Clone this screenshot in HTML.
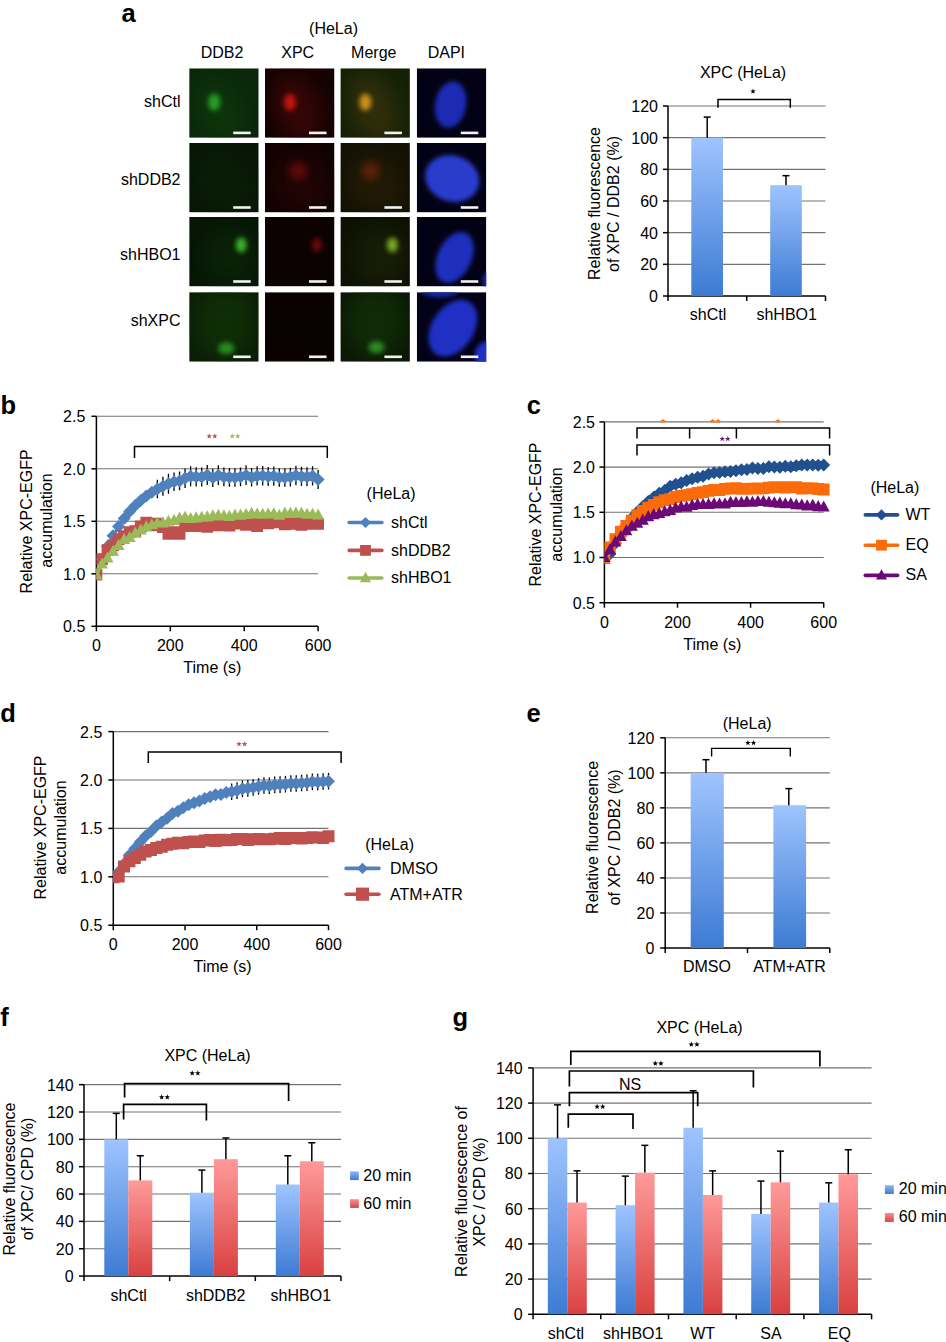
<!DOCTYPE html>
<html><head><meta charset="utf-8"><style>
html,body{margin:0;padding:0;background:#fff;}
svg{display:block;}
text{font-family:"Liberation Sans",sans-serif;}
</style></head><body>
<svg width="946" height="1342" viewBox="0 0 946 1342">
<defs>
<linearGradient id="gb" x1="0" y1="0" x2="0" y2="1"><stop offset="0" stop-color="#9fc4ff"/><stop offset="1" stop-color="#3d7bd3"/></linearGradient>
<linearGradient id="gr" x1="0" y1="0" x2="0" y2="1"><stop offset="0" stop-color="#ff9a9a"/><stop offset="1" stop-color="#d94040"/></linearGradient>
<linearGradient id="gbs" x1="0" y1="0" x2="0" y2="1"><stop offset="0" stop-color="#8fb6f6"/><stop offset="1" stop-color="#3f7bd0"/></linearGradient>
<linearGradient id="grs" x1="0" y1="0" x2="0" y2="1"><stop offset="0" stop-color="#ff8e8e"/><stop offset="1" stop-color="#d34444"/></linearGradient>
<filter id="b8" x="-60%" y="-60%" width="220%" height="220%" color-interpolation-filters="sRGB"><feGaussianBlur stdDeviation="10"/></filter>
<filter id="b4" x="-60%" y="-60%" width="220%" height="220%" color-interpolation-filters="sRGB"><feGaussianBlur stdDeviation="3.5"/></filter>
<filter id="b3" x="-60%" y="-60%" width="220%" height="220%" color-interpolation-filters="sRGB"><feGaussianBlur stdDeviation="2.6"/></filter>
<filter id="b2" x="-60%" y="-60%" width="220%" height="220%" color-interpolation-filters="sRGB"><feGaussianBlur stdDeviation="2.2"/></filter>
</defs>
<clipPath id="c00"><rect x="189.2" y="68.3" width="69.5" height="69.5"/></clipPath>
<g clip-path="url(#c00)"><rect x="189.2" y="68.3" width="69.5" height="69.5" fill="#0b280a"/>
<ellipse cx="219.2" cy="110.3" rx="22" ry="34" fill="#0f3a0c" opacity="0.7" transform="rotate(-20 219.2 110.3)" filter="url(#b8)"/>
<ellipse cx="214.2" cy="102.3" rx="6" ry="8.5" fill="#25a025" opacity="1" transform="rotate(0 214.2 102.3)" filter="url(#b3)"/>
<rect x="233.2" y="131.6" width="17.5" height="2.6" fill="#f2f2f2"/>
</g>
<clipPath id="c01"><rect x="265.0" y="68.3" width="69.5" height="69.5"/></clipPath>
<g clip-path="url(#c01)"><rect x="265.0" y="68.3" width="69.5" height="69.5" fill="#140303"/>
<ellipse cx="298.0" cy="108.3" rx="22" ry="36" fill="#3a0707" opacity="0.9" transform="rotate(-20 298.0 108.3)" filter="url(#b8)"/>
<ellipse cx="290.0" cy="102.3" rx="6" ry="8.5" fill="#c01510" opacity="1" transform="rotate(0 290.0 102.3)" filter="url(#b3)"/>
<rect x="309.0" y="131.6" width="17.5" height="2.6" fill="#f2f2f2"/>
</g>
<clipPath id="c02"><rect x="340.4" y="68.3" width="69.5" height="69.5"/></clipPath>
<g clip-path="url(#c02)"><rect x="340.4" y="68.3" width="69.5" height="69.5" fill="#152106"/>
<ellipse cx="373.4" cy="108.3" rx="22" ry="36" fill="#34300c" opacity="0.9" transform="rotate(-20 373.4 108.3)" filter="url(#b8)"/>
<ellipse cx="365.4" cy="102.3" rx="6" ry="8.5" fill="#c8901a" opacity="1" transform="rotate(0 365.4 102.3)" filter="url(#b3)"/>
<rect x="384.4" y="131.6" width="17.5" height="2.6" fill="#f2f2f2"/>
</g>
<clipPath id="c03"><rect x="416.8" y="68.3" width="69.5" height="69.5"/></clipPath>
<g clip-path="url(#c03)"><rect x="416.8" y="68.3" width="69.5" height="69.5" fill="#020214"/>
<ellipse cx="450.6" cy="104.6" rx="15.5" ry="23.5" fill="#1d2ab4" opacity="1" transform="rotate(10 450.6 104.6)" filter="url(#b2)"/>
<rect x="460.8" y="131.6" width="17.5" height="2.6" fill="#f2f2f2"/>
</g>
<clipPath id="c10"><rect x="189.2" y="142.9" width="69.5" height="69.5"/></clipPath>
<g clip-path="url(#c10)"><rect x="189.2" y="142.9" width="69.5" height="69.5" fill="#071805"/>
<ellipse cx="224.2" cy="182.9" rx="26" ry="32" fill="#0c2208" opacity="0.6" transform="rotate(-30 224.2 182.9)" filter="url(#b8)"/>
<rect x="233.2" y="206.2" width="17.5" height="2.6" fill="#f2f2f2"/>
</g>
<clipPath id="c11"><rect x="265.0" y="142.9" width="69.5" height="69.5"/></clipPath>
<g clip-path="url(#c11)"><rect x="265.0" y="142.9" width="69.5" height="69.5" fill="#110202"/>
<ellipse cx="300.0" cy="182.9" rx="26" ry="32" fill="#260505" opacity="0.8" transform="rotate(-30 300.0 182.9)" filter="url(#b8)"/>
<ellipse cx="298.0" cy="170.9" rx="9" ry="9" fill="#5a0a0a" opacity="1" transform="rotate(0 298.0 170.9)" filter="url(#b4)"/>
<rect x="309.0" y="206.2" width="17.5" height="2.6" fill="#f2f2f2"/>
</g>
<clipPath id="c12"><rect x="340.4" y="142.9" width="69.5" height="69.5"/></clipPath>
<g clip-path="url(#c12)"><rect x="340.4" y="142.9" width="69.5" height="69.5" fill="#121205"/>
<ellipse cx="375.4" cy="182.9" rx="26" ry="32" fill="#261c06" opacity="0.8" transform="rotate(-30 375.4 182.9)" filter="url(#b8)"/>
<ellipse cx="370.4" cy="170.9" rx="9" ry="9" fill="#5a2008" opacity="1" transform="rotate(0 370.4 170.9)" filter="url(#b4)"/>
<rect x="384.4" y="206.2" width="17.5" height="2.6" fill="#f2f2f2"/>
</g>
<clipPath id="c13"><rect x="416.8" y="142.9" width="69.5" height="69.5"/></clipPath>
<g clip-path="url(#c13)"><rect x="416.8" y="142.9" width="69.5" height="69.5" fill="#020216"/>
<ellipse cx="452.2" cy="178.5" rx="27.5" ry="23.0" fill="#2a3ccc" opacity="1" transform="rotate(18 452.2 178.5)" filter="url(#b2)"/>
<rect x="460.8" y="206.2" width="17.5" height="2.6" fill="#f2f2f2"/>
</g>
<clipPath id="c20"><rect x="189.2" y="216.9" width="69.5" height="69.5"/></clipPath>
<g clip-path="url(#c20)"><rect x="189.2" y="216.9" width="69.5" height="69.5" fill="#061705"/>
<ellipse cx="229.2" cy="256.9" rx="26" ry="30" fill="#0c2608" opacity="0.7" transform="rotate(0 229.2 256.9)" filter="url(#b8)"/>
<ellipse cx="241.2" cy="244.9" rx="5.5" ry="7.5" fill="#3cb030" opacity="1" transform="rotate(0 241.2 244.9)" filter="url(#b3)"/>
<rect x="233.2" y="280.2" width="17.5" height="2.6" fill="#f2f2f2"/>
</g>
<clipPath id="c21"><rect x="265.0" y="216.9" width="69.5" height="69.5"/></clipPath>
<g clip-path="url(#c21)"><rect x="265.0" y="216.9" width="69.5" height="69.5" fill="#0d0202"/>
<ellipse cx="317.0" cy="244.9" rx="5" ry="7" fill="#6a0a0a" opacity="1" transform="rotate(0 317.0 244.9)" filter="url(#b3)"/>
<rect x="309.0" y="280.2" width="17.5" height="2.6" fill="#f2f2f2"/>
</g>
<clipPath id="c22"><rect x="340.4" y="216.9" width="69.5" height="69.5"/></clipPath>
<g clip-path="url(#c22)"><rect x="340.4" y="216.9" width="69.5" height="69.5" fill="#0e1204"/>
<ellipse cx="380.4" cy="256.9" rx="26" ry="30" fill="#1c2208" opacity="0.7" transform="rotate(0 380.4 256.9)" filter="url(#b8)"/>
<ellipse cx="392.4" cy="244.9" rx="5.5" ry="7.5" fill="#78a820" opacity="1" transform="rotate(0 392.4 244.9)" filter="url(#b3)"/>
<rect x="384.4" y="280.2" width="17.5" height="2.6" fill="#f2f2f2"/>
</g>
<clipPath id="c23"><rect x="416.8" y="216.9" width="69.5" height="69.5"/></clipPath>
<g clip-path="url(#c23)"><rect x="416.8" y="216.9" width="69.5" height="69.5" fill="#020214"/>
<ellipse cx="454.5" cy="257.5" rx="17" ry="27" fill="#1f2fbe" opacity="1" transform="rotate(25 454.5 257.5)" filter="url(#b2)"/>
<ellipse cx="487.8" cy="280.9" rx="5" ry="9" fill="#1c2ab0" opacity="1" transform="rotate(0 487.8 280.9)" filter="url(#b2)"/>
<rect x="460.8" y="280.2" width="17.5" height="2.6" fill="#f2f2f2"/>
</g>
<clipPath id="c30"><rect x="189.2" y="292.2" width="69.5" height="69.5"/></clipPath>
<g clip-path="url(#c30)"><rect x="189.2" y="292.2" width="69.5" height="69.5" fill="#0a1e06"/>
<ellipse cx="224.2" cy="322.2" rx="30" ry="36" fill="#103208" opacity="0.8" transform="rotate(0 224.2 322.2)" filter="url(#b8)"/>
<ellipse cx="226.2" cy="348.2" rx="8" ry="6" fill="#2a8c22" opacity="1" transform="rotate(0 226.2 348.2)" filter="url(#b3)"/>
<rect x="233.2" y="355.5" width="17.5" height="2.6" fill="#f2f2f2"/>
</g>
<clipPath id="c31"><rect x="265.0" y="292.2" width="69.5" height="69.5"/></clipPath>
<g clip-path="url(#c31)"><rect x="265.0" y="292.2" width="69.5" height="69.5" fill="#0a0101"/>
<rect x="309.0" y="355.5" width="17.5" height="2.6" fill="#f2f2f2"/>
</g>
<clipPath id="c32"><rect x="340.4" y="292.2" width="69.5" height="69.5"/></clipPath>
<g clip-path="url(#c32)"><rect x="340.4" y="292.2" width="69.5" height="69.5" fill="#0b1705"/>
<ellipse cx="375.4" cy="322.2" rx="30" ry="36" fill="#123008" opacity="0.8" transform="rotate(0 375.4 322.2)" filter="url(#b8)"/>
<ellipse cx="376.4" cy="347.2" rx="8" ry="6" fill="#2c8a22" opacity="1" transform="rotate(0 376.4 347.2)" filter="url(#b3)"/>
<rect x="384.4" y="355.5" width="17.5" height="2.6" fill="#f2f2f2"/>
</g>
<clipPath id="c33"><rect x="416.8" y="292.2" width="69.5" height="69.5"/></clipPath>
<g clip-path="url(#c33)"><rect x="416.8" y="292.2" width="69.5" height="69.5" fill="#020218"/>
<ellipse cx="452.8" cy="328.2" rx="21" ry="31" fill="#2030c4" opacity="1" transform="rotate(33 452.8 328.2)" filter="url(#b2)"/>
<ellipse cx="439.8" cy="291.2" rx="18" ry="6" fill="#1a28a8" opacity="1" transform="rotate(0 439.8 291.2)" filter="url(#b2)"/>
<ellipse cx="487.8" cy="355.2" rx="13" ry="14" fill="#2030c4" opacity="1" transform="rotate(0 487.8 355.2)" filter="url(#b2)"/>
<rect x="460.8" y="355.5" width="17.5" height="2.6" fill="#f2f2f2"/>
</g>
<text x="333.50" y="34.30" text-anchor="middle" font-size="16.0" font-weight="normal" fill="#000">(HeLa)</text>
<text x="222.10" y="57.50" text-anchor="middle" font-size="16.0" font-weight="normal" fill="#000">DDB2</text>
<text x="297.70" y="57.50" text-anchor="middle" font-size="16.0" font-weight="normal" fill="#000">XPC</text>
<text x="373.80" y="57.50" text-anchor="middle" font-size="16.0" font-weight="normal" fill="#000">Merge</text>
<text x="446.40" y="57.50" text-anchor="middle" font-size="16.0" font-weight="normal" fill="#000">DAPI</text>
<text x="180.50" y="106.80" text-anchor="end" font-size="16.0" font-weight="normal" fill="#000">shCtl</text>
<text x="180.50" y="185.00" text-anchor="end" font-size="16.0" font-weight="normal" fill="#000">shDDB2</text>
<text x="180.50" y="260.00" text-anchor="end" font-size="16.0" font-weight="normal" fill="#000">shHBO1</text>
<text x="180.50" y="326.20" text-anchor="end" font-size="16.0" font-weight="normal" fill="#000">shXPC</text>
<line x1="668.00" y1="264.33" x2="825.50" y2="264.33" stroke="#737373" stroke-width="1.1"/>
<line x1="668.00" y1="232.67" x2="825.50" y2="232.67" stroke="#737373" stroke-width="1.1"/>
<line x1="668.00" y1="201.00" x2="825.50" y2="201.00" stroke="#737373" stroke-width="1.1"/>
<line x1="668.00" y1="169.33" x2="825.50" y2="169.33" stroke="#737373" stroke-width="1.1"/>
<line x1="668.00" y1="137.67" x2="825.50" y2="137.67" stroke="#737373" stroke-width="1.1"/>
<line x1="668.00" y1="106.00" x2="825.50" y2="106.00" stroke="#737373" stroke-width="1.1"/>
<line x1="668.00" y1="106.00" x2="668.00" y2="296.75" stroke="#000" stroke-width="1.5"/>
<line x1="667.25" y1="296.00" x2="825.50" y2="296.00" stroke="#000" stroke-width="1.5"/>
<line x1="663.00" y1="296.00" x2="668.00" y2="296.00" stroke="#000" stroke-width="1.5"/>
<text x="658.00" y="301.90" text-anchor="end" font-size="16.0" font-weight="normal" fill="#000">0</text>
<line x1="663.00" y1="264.33" x2="668.00" y2="264.33" stroke="#000" stroke-width="1.5"/>
<text x="658.00" y="270.23" text-anchor="end" font-size="16.0" font-weight="normal" fill="#000">20</text>
<line x1="663.00" y1="232.67" x2="668.00" y2="232.67" stroke="#000" stroke-width="1.5"/>
<text x="658.00" y="238.57" text-anchor="end" font-size="16.0" font-weight="normal" fill="#000">40</text>
<line x1="663.00" y1="201.00" x2="668.00" y2="201.00" stroke="#000" stroke-width="1.5"/>
<text x="658.00" y="206.90" text-anchor="end" font-size="16.0" font-weight="normal" fill="#000">60</text>
<line x1="663.00" y1="169.33" x2="668.00" y2="169.33" stroke="#000" stroke-width="1.5"/>
<text x="658.00" y="175.23" text-anchor="end" font-size="16.0" font-weight="normal" fill="#000">80</text>
<line x1="663.00" y1="137.67" x2="668.00" y2="137.67" stroke="#000" stroke-width="1.5"/>
<text x="658.00" y="143.57" text-anchor="end" font-size="16.0" font-weight="normal" fill="#000">100</text>
<line x1="663.00" y1="106.00" x2="668.00" y2="106.00" stroke="#000" stroke-width="1.5"/>
<text x="658.00" y="111.90" text-anchor="end" font-size="16.0" font-weight="normal" fill="#000">120</text>
<line x1="668.00" y1="296.00" x2="668.00" y2="301.00" stroke="#000" stroke-width="1.5"/>
<line x1="746.75" y1="296.00" x2="746.75" y2="301.00" stroke="#000" stroke-width="1.5"/>
<line x1="825.50" y1="296.00" x2="825.50" y2="301.00" stroke="#000" stroke-width="1.5"/>
<rect x="691.30" y="137.67" width="31.70" height="158.33" fill="url(#gb)"/>
<rect x="770.20" y="185.17" width="31.60" height="110.83" fill="url(#gb)"/>
<line x1="707.20" y1="117.08" x2="707.20" y2="137.67" stroke="#000" stroke-width="1.5"/>
<line x1="703.70" y1="117.08" x2="710.70" y2="117.08" stroke="#000" stroke-width="1.5"/>
<line x1="786.00" y1="175.67" x2="786.00" y2="185.17" stroke="#000" stroke-width="1.5"/>
<line x1="782.50" y1="175.67" x2="789.50" y2="175.67" stroke="#000" stroke-width="1.5"/>
<path d="M718.00,107.70 L718.00,99.50 L790.30,99.50 L790.30,107.70" stroke="#000" stroke-width="1.5" fill="none"/>
<path d="M753.00,88.50L753.72,90.41L755.76,90.50L754.16,91.78L754.70,93.75L753.00,92.62L751.30,93.75L751.84,91.78L750.24,90.50L752.28,90.41Z" fill="#000"/>
<text x="743.00" y="78.30" text-anchor="middle" font-size="16.0" font-weight="normal" fill="#000">XPC (HeLa)</text>
<text x="708.00" y="320.00" text-anchor="middle" font-size="16.0" font-weight="normal" fill="#000">shCtl</text>
<text x="786.70" y="320.00" text-anchor="middle" font-size="16.0" font-weight="normal" fill="#000">shHBO1</text>
<text transform="translate(600.46,203.50) rotate(-90)" text-anchor="middle" font-size="16.0">Relative fluorescence</text>
<text transform="translate(619.26,204.00) rotate(-90)" text-anchor="middle" font-size="16.0">of XPC / DDB2 (%)</text>
<line x1="96.40" y1="573.80" x2="318.10" y2="573.80" stroke="#737373" stroke-width="1.1"/>
<line x1="96.40" y1="521.30" x2="318.10" y2="521.30" stroke="#737373" stroke-width="1.1"/>
<line x1="96.40" y1="468.80" x2="318.10" y2="468.80" stroke="#737373" stroke-width="1.1"/>
<line x1="96.40" y1="416.30" x2="318.10" y2="416.30" stroke="#737373" stroke-width="1.1"/>
<line x1="96.40" y1="416.30" x2="96.40" y2="627.05" stroke="#000" stroke-width="1.5"/>
<line x1="95.65" y1="626.30" x2="318.10" y2="626.30" stroke="#000" stroke-width="1.5"/>
<line x1="91.40" y1="626.30" x2="96.40" y2="626.30" stroke="#000" stroke-width="1.5"/>
<text x="85.30" y="632.20" text-anchor="end" font-size="16.0" font-weight="normal" fill="#000">0.5</text>
<line x1="91.40" y1="573.80" x2="96.40" y2="573.80" stroke="#000" stroke-width="1.5"/>
<text x="85.30" y="579.70" text-anchor="end" font-size="16.0" font-weight="normal" fill="#000">1.0</text>
<line x1="91.40" y1="521.30" x2="96.40" y2="521.30" stroke="#000" stroke-width="1.5"/>
<text x="85.30" y="527.20" text-anchor="end" font-size="16.0" font-weight="normal" fill="#000">1.5</text>
<line x1="91.40" y1="468.80" x2="96.40" y2="468.80" stroke="#000" stroke-width="1.5"/>
<text x="85.30" y="474.70" text-anchor="end" font-size="16.0" font-weight="normal" fill="#000">2.0</text>
<line x1="91.40" y1="416.30" x2="96.40" y2="416.30" stroke="#000" stroke-width="1.5"/>
<text x="85.30" y="422.20" text-anchor="end" font-size="16.0" font-weight="normal" fill="#000">2.5</text>
<line x1="96.40" y1="626.30" x2="96.40" y2="631.30" stroke="#000" stroke-width="1.5"/>
<text x="96.40" y="651.00" text-anchor="middle" font-size="16.0" font-weight="normal" fill="#000">0</text>
<line x1="170.30" y1="626.30" x2="170.30" y2="631.30" stroke="#000" stroke-width="1.5"/>
<text x="170.30" y="651.00" text-anchor="middle" font-size="16.0" font-weight="normal" fill="#000">200</text>
<line x1="244.20" y1="626.30" x2="244.20" y2="631.30" stroke="#000" stroke-width="1.5"/>
<text x="244.20" y="651.00" text-anchor="middle" font-size="16.0" font-weight="normal" fill="#000">400</text>
<line x1="318.10" y1="626.30" x2="318.10" y2="631.30" stroke="#000" stroke-width="1.5"/>
<text x="318.10" y="651.00" text-anchor="middle" font-size="16.0" font-weight="normal" fill="#000">600</text>
<text x="212.40" y="672.50" text-anchor="middle" font-size="16.0" font-weight="normal" fill="#000">Time (s)</text>
<text transform="translate(31.76,521.40) rotate(-90)" text-anchor="middle" font-size="16.0">Relative XPC-EGFP</text>
<text transform="translate(51.76,520.50) rotate(-90)" text-anchor="middle" font-size="16.0">accumulation</text>
<path d="M134.50,458.00 L134.50,446.60 L327.30,446.60 L327.30,458.00" stroke="#000" stroke-width="1.5" fill="none"/>
<path d="M209.20,433.30L209.92,435.21L211.96,435.30L210.36,436.58L210.90,438.55L209.20,437.42L207.50,438.55L208.04,436.58L206.44,435.30L208.48,435.21ZM214.80,433.30L215.52,435.21L217.56,435.30L215.96,436.58L216.50,438.55L214.80,437.42L213.10,438.55L213.64,436.58L212.04,435.30L214.08,435.21Z" fill="#c0504d"/>
<path d="M232.20,433.30L232.92,435.21L234.96,435.30L233.36,436.58L233.90,438.55L232.20,437.42L230.50,438.55L231.04,436.58L229.44,435.30L231.48,435.21ZM237.80,433.30L238.52,435.21L240.56,435.30L238.96,436.58L239.50,438.55L237.80,437.42L236.10,438.55L236.64,436.58L235.04,435.30L237.08,435.21Z" fill="#9bbb59"/>
<clipPath id="clb"><rect x="96.4" y="400" width="243.6" height="226"/></clipPath>
<g clip-path="url(#clb)">
<path d="M96.40,573.80 L101.94,559.17 L107.49,546.59 L113.03,535.75 L118.57,526.43 L124.11,518.40 L129.66,511.49 L135.20,505.54 L140.74,500.43 L146.28,496.02 L151.82,492.23 L157.37,488.97 L162.91,486.16 L168.45,483.75 L174.00,481.70 L179.54,480.88 L185.08,478.28 L190.62,476.31 L196.17,476.86 L201.71,477.05 L207.25,475.01 L212.79,477.82 L218.34,475.19 L223.88,476.93 L229.42,477.36 L234.96,477.42 L240.50,476.81 L246.05,475.20 L251.59,477.20 L257.13,475.93 L262.68,475.74 L268.22,476.58 L273.76,476.03 L279.30,477.55 L284.85,477.56 L290.39,477.10 L295.93,475.60 L301.47,476.40 L307.02,476.75 L312.56,475.90 L318.10,479.46" stroke="#4f81bd" stroke-width="3.0" fill="none" stroke-linejoin="round"/>
<line x1="157.37" y1="479.73" x2="157.37" y2="498.20" stroke="#000" stroke-width="1.3"/>
<line x1="162.91" y1="476.63" x2="162.91" y2="495.69" stroke="#000" stroke-width="1.3"/>
<line x1="168.45" y1="473.86" x2="168.45" y2="493.65" stroke="#000" stroke-width="1.3"/>
<line x1="174.00" y1="472.44" x2="174.00" y2="490.97" stroke="#000" stroke-width="1.3"/>
<line x1="179.54" y1="471.53" x2="179.54" y2="490.23" stroke="#000" stroke-width="1.3"/>
<line x1="185.08" y1="468.56" x2="185.08" y2="487.99" stroke="#000" stroke-width="1.3"/>
<line x1="190.62" y1="466.31" x2="190.62" y2="486.32" stroke="#000" stroke-width="1.3"/>
<line x1="196.17" y1="467.19" x2="196.17" y2="486.53" stroke="#000" stroke-width="1.3"/>
<line x1="201.71" y1="467.55" x2="201.71" y2="486.56" stroke="#000" stroke-width="1.3"/>
<line x1="207.25" y1="464.99" x2="207.25" y2="485.04" stroke="#000" stroke-width="1.3"/>
<line x1="212.79" y1="468.63" x2="212.79" y2="487.01" stroke="#000" stroke-width="1.3"/>
<line x1="218.34" y1="465.26" x2="218.34" y2="485.11" stroke="#000" stroke-width="1.3"/>
<line x1="223.88" y1="467.52" x2="223.88" y2="486.34" stroke="#000" stroke-width="1.3"/>
<line x1="229.42" y1="468.08" x2="229.42" y2="486.64" stroke="#000" stroke-width="1.3"/>
<line x1="234.96" y1="468.17" x2="234.96" y2="486.68" stroke="#000" stroke-width="1.3"/>
<line x1="240.50" y1="467.38" x2="240.50" y2="486.24" stroke="#000" stroke-width="1.3"/>
<line x1="246.05" y1="465.32" x2="246.05" y2="485.09" stroke="#000" stroke-width="1.3"/>
<line x1="251.59" y1="467.88" x2="251.59" y2="486.51" stroke="#000" stroke-width="1.3"/>
<line x1="257.13" y1="466.25" x2="257.13" y2="485.60" stroke="#000" stroke-width="1.3"/>
<line x1="262.68" y1="466.02" x2="262.68" y2="485.47" stroke="#000" stroke-width="1.3"/>
<line x1="268.22" y1="467.09" x2="268.22" y2="486.06" stroke="#000" stroke-width="1.3"/>
<line x1="273.76" y1="466.38" x2="273.76" y2="485.67" stroke="#000" stroke-width="1.3"/>
<line x1="279.30" y1="468.34" x2="279.30" y2="486.76" stroke="#000" stroke-width="1.3"/>
<line x1="284.85" y1="468.36" x2="284.85" y2="486.76" stroke="#000" stroke-width="1.3"/>
<line x1="290.39" y1="467.76" x2="290.39" y2="486.43" stroke="#000" stroke-width="1.3"/>
<line x1="295.93" y1="465.84" x2="295.93" y2="485.36" stroke="#000" stroke-width="1.3"/>
<line x1="301.47" y1="466.86" x2="301.47" y2="485.93" stroke="#000" stroke-width="1.3"/>
<line x1="307.02" y1="467.32" x2="307.02" y2="486.19" stroke="#000" stroke-width="1.3"/>
<line x1="312.56" y1="466.22" x2="312.56" y2="485.58" stroke="#000" stroke-width="1.3"/>
<line x1="318.10" y1="469.91" x2="318.10" y2="489.02" stroke="#000" stroke-width="1.3"/>
<path d="M96.40,567.30L102.90,573.80L96.40,580.30L89.90,573.80ZM101.94,552.67L108.44,559.17L101.94,565.67L95.44,559.17ZM107.49,540.09L113.99,546.59L107.49,553.09L100.99,546.59ZM113.03,529.25L119.53,535.75L113.03,542.25L106.53,535.75ZM118.57,519.93L125.07,526.43L118.57,532.93L112.07,526.43ZM124.11,511.90L130.61,518.40L124.11,524.90L117.61,518.40ZM129.66,504.99L136.16,511.49L129.66,517.99L123.16,511.49ZM135.20,499.04L141.70,505.54L135.20,512.04L128.70,505.54ZM140.74,493.93L147.24,500.43L140.74,506.93L134.24,500.43ZM146.28,489.52L152.78,496.02L146.28,502.52L139.78,496.02ZM151.82,485.73L158.32,492.23L151.82,498.73L145.32,492.23ZM157.37,482.47L163.87,488.97L157.37,495.47L150.87,488.97ZM162.91,479.66L169.41,486.16L162.91,492.66L156.41,486.16ZM168.45,477.25L174.95,483.75L168.45,490.25L161.95,483.75ZM174.00,475.20L180.50,481.70L174.00,488.20L167.50,481.70ZM179.54,474.38L186.04,480.88L179.54,487.38L173.04,480.88ZM185.08,471.78L191.58,478.28L185.08,484.78L178.58,478.28ZM190.62,469.81L197.12,476.31L190.62,482.81L184.12,476.31ZM196.17,470.36L202.67,476.86L196.17,483.36L189.67,476.86ZM201.71,470.55L208.21,477.05L201.71,483.55L195.21,477.05ZM207.25,468.51L213.75,475.01L207.25,481.51L200.75,475.01ZM212.79,471.32L219.29,477.82L212.79,484.32L206.29,477.82ZM218.34,468.69L224.84,475.19L218.34,481.69L211.84,475.19ZM223.88,470.43L230.38,476.93L223.88,483.43L217.38,476.93ZM229.42,470.86L235.92,477.36L229.42,483.86L222.92,477.36ZM234.96,470.92L241.46,477.42L234.96,483.92L228.46,477.42ZM240.50,470.31L247.00,476.81L240.50,483.31L234.00,476.81ZM246.05,468.70L252.55,475.20L246.05,481.70L239.55,475.20ZM251.59,470.70L258.09,477.20L251.59,483.70L245.09,477.20ZM257.13,469.43L263.63,475.93L257.13,482.43L250.63,475.93ZM262.68,469.24L269.18,475.74L262.68,482.24L256.18,475.74ZM268.22,470.08L274.72,476.58L268.22,483.08L261.72,476.58ZM273.76,469.53L280.26,476.03L273.76,482.53L267.26,476.03ZM279.30,471.05L285.80,477.55L279.30,484.05L272.80,477.55ZM284.85,471.06L291.35,477.56L284.85,484.06L278.35,477.56ZM290.39,470.60L296.89,477.10L290.39,483.60L283.89,477.10ZM295.93,469.10L302.43,475.60L295.93,482.10L289.43,475.60ZM301.47,469.90L307.97,476.40L301.47,482.90L294.97,476.40ZM307.02,470.25L313.52,476.75L307.02,483.25L300.52,476.75ZM312.56,469.40L319.06,475.90L312.56,482.40L306.06,475.90ZM318.10,472.96L324.60,479.46L318.10,485.96L311.60,479.46Z" fill="#4f81bd"/>
</g>
<g clip-path="url(#clb)">
<path d="M96.40,574.64 L101.94,559.14 L107.49,550.09 L113.03,545.33 L118.57,539.22 L124.11,536.07 L129.66,532.20 L135.20,531.07 L140.74,526.40 L146.28,522.55 L151.82,525.46 L157.37,523.64 L162.91,527.02 L168.45,533.92 L174.00,532.20 L179.54,533.81 L185.08,526.20 L190.62,525.57 L196.17,526.16 L201.71,524.68 L207.25,526.84 L212.79,525.05 L218.34,525.28 L223.88,525.15 L229.42,525.48 L234.96,523.68 L240.50,523.06 L246.05,524.85 L251.59,523.87 L257.13,526.22 L262.68,523.34 L268.22,523.39 L273.76,521.75 L279.30,522.28 L284.85,524.36 L290.39,523.75 L295.93,522.38 L301.47,524.91 L307.02,522.88 L312.56,523.93 L318.10,523.96" stroke="#c0504d" stroke-width="3.0" fill="none" stroke-linejoin="round"/>
<path d="M90.50,568.74h11.80v11.80h-11.80ZM96.04,553.24h11.80v11.80h-11.80ZM101.59,544.19h11.80v11.80h-11.80ZM107.13,539.43h11.80v11.80h-11.80ZM112.67,533.32h11.80v11.80h-11.80ZM118.21,530.17h11.80v11.80h-11.80ZM123.75,526.30h11.80v11.80h-11.80ZM129.30,525.17h11.80v11.80h-11.80ZM134.84,520.50h11.80v11.80h-11.80ZM140.38,516.65h11.80v11.80h-11.80ZM145.92,519.56h11.80v11.80h-11.80ZM151.47,517.74h11.80v11.80h-11.80ZM157.01,521.12h11.80v11.80h-11.80ZM162.55,528.02h11.80v11.80h-11.80ZM168.09,526.30h11.80v11.80h-11.80ZM173.64,527.91h11.80v11.80h-11.80ZM179.18,520.30h11.80v11.80h-11.80ZM184.72,519.67h11.80v11.80h-11.80ZM190.27,520.26h11.80v11.80h-11.80ZM195.81,518.78h11.80v11.80h-11.80ZM201.35,520.94h11.80v11.80h-11.80ZM206.89,519.15h11.80v11.80h-11.80ZM212.44,519.38h11.80v11.80h-11.80ZM217.98,519.25h11.80v11.80h-11.80ZM223.52,519.58h11.80v11.80h-11.80ZM229.06,517.78h11.80v11.80h-11.80ZM234.60,517.16h11.80v11.80h-11.80ZM240.15,518.95h11.80v11.80h-11.80ZM245.69,517.97h11.80v11.80h-11.80ZM251.23,520.32h11.80v11.80h-11.80ZM256.78,517.44h11.80v11.80h-11.80ZM262.32,517.49h11.80v11.80h-11.80ZM267.86,515.85h11.80v11.80h-11.80ZM273.40,516.38h11.80v11.80h-11.80ZM278.95,518.46h11.80v11.80h-11.80ZM284.49,517.85h11.80v11.80h-11.80ZM290.03,516.48h11.80v11.80h-11.80ZM295.57,519.01h11.80v11.80h-11.80ZM301.12,516.98h11.80v11.80h-11.80ZM306.66,518.03h11.80v11.80h-11.80ZM312.20,518.06h11.80v11.80h-11.80Z" fill="#c0504d"/>
</g>
<g clip-path="url(#clb)">
<path d="M96.40,574.91 L101.94,564.12 L107.49,558.08 L113.03,551.28 L118.57,545.40 L124.11,539.50 L129.66,537.51 L135.20,533.19 L140.74,530.07 L146.28,526.78 L151.82,524.87 L157.37,522.99 L162.91,522.97 L168.45,521.35 L174.00,520.41 L179.54,518.17 L185.08,517.20 L190.62,518.57 L196.17,517.95 L201.71,517.33 L207.25,516.92 L212.79,515.94 L218.34,515.38 L223.88,515.96 L229.42,516.40 L234.96,515.17 L240.50,515.14 L246.05,514.52 L251.59,513.43 L257.13,514.00 L262.68,514.36 L268.22,514.04 L273.76,513.83 L279.30,515.35 L284.85,513.18 L290.39,513.44 L295.93,513.18 L301.47,513.34 L307.02,514.34 L312.56,514.31 L318.10,515.04" stroke="#9bbb59" stroke-width="3.0" fill="none" stroke-linejoin="round"/>
<path d="M96.40,568.31L102.40,579.41L90.40,579.41ZM101.94,557.52L107.94,568.62L95.94,568.62ZM107.49,551.48L113.49,562.58L101.49,562.58ZM113.03,544.68L119.03,555.78L107.03,555.78ZM118.57,538.80L124.57,549.90L112.57,549.90ZM124.11,532.90L130.11,544.00L118.11,544.00ZM129.66,530.91L135.66,542.01L123.66,542.01ZM135.20,526.59L141.20,537.69L129.20,537.69ZM140.74,523.47L146.74,534.57L134.74,534.57ZM146.28,520.18L152.28,531.28L140.28,531.28ZM151.82,518.27L157.82,529.37L145.82,529.37ZM157.37,516.39L163.37,527.49L151.37,527.49ZM162.91,516.37L168.91,527.47L156.91,527.47ZM168.45,514.75L174.45,525.85L162.45,525.85ZM174.00,513.81L180.00,524.91L168.00,524.91ZM179.54,511.57L185.54,522.67L173.54,522.67ZM185.08,510.60L191.08,521.70L179.08,521.70ZM190.62,511.97L196.62,523.07L184.62,523.07ZM196.17,511.35L202.17,522.45L190.17,522.45ZM201.71,510.73L207.71,521.83L195.71,521.83ZM207.25,510.32L213.25,521.42L201.25,521.42ZM212.79,509.34L218.79,520.44L206.79,520.44ZM218.34,508.78L224.34,519.88L212.34,519.88ZM223.88,509.36L229.88,520.46L217.88,520.46ZM229.42,509.80L235.42,520.90L223.42,520.90ZM234.96,508.57L240.96,519.67L228.96,519.67ZM240.50,508.54L246.50,519.64L234.50,519.64ZM246.05,507.92L252.05,519.02L240.05,519.02ZM251.59,506.83L257.59,517.93L245.59,517.93ZM257.13,507.40L263.13,518.50L251.13,518.50ZM262.68,507.76L268.68,518.86L256.68,518.86ZM268.22,507.44L274.22,518.54L262.22,518.54ZM273.76,507.23L279.76,518.33L267.76,518.33ZM279.30,508.75L285.30,519.85L273.30,519.85ZM284.85,506.58L290.85,517.68L278.85,517.68ZM290.39,506.84L296.39,517.94L284.39,517.94ZM295.93,506.58L301.93,517.68L289.93,517.68ZM301.47,506.74L307.47,517.84L295.47,517.84ZM307.02,507.74L313.02,518.84L301.02,518.84ZM312.56,507.71L318.56,518.81L306.56,518.81ZM318.10,508.44L324.10,519.54L312.10,519.54Z" fill="#9bbb59"/>
</g>
<text x="366.60" y="499.00" text-anchor="start" font-size="16.0" font-weight="normal" fill="#000">(HeLa)</text>
<line x1="349.20" y1="522.5" x2="381.90" y2="522.5" stroke="#4f81bd" stroke-width="3.6" stroke-linecap="round"/>
<path d="M365.50,516.90L371.10,522.50L365.50,528.10L359.90,522.50Z" fill="#4f81bd"/>
<line x1="349.20" y1="550.4" x2="381.90" y2="550.4" stroke="#c0504d" stroke-width="3.6" stroke-linecap="round"/>
<path d="M360.10,545.00h10.80v10.80h-10.80Z" fill="#c0504d"/>
<line x1="349.20" y1="578.0" x2="381.90" y2="578.0" stroke="#9bbb59" stroke-width="3.6" stroke-linecap="round"/>
<path d="M365.50,571.84L371.10,582.20L359.90,582.20Z" fill="#9bbb59"/>
<text x="391.00" y="528.00" text-anchor="start" font-size="16.0" font-weight="normal" fill="#000">shCtl</text>
<text x="391.00" y="555.50" text-anchor="start" font-size="16.0" font-weight="normal" fill="#000">shDDB2</text>
<text x="391.00" y="583.20" text-anchor="start" font-size="16.0" font-weight="normal" fill="#000">shHBO1</text>
<line x1="604.40" y1="557.50" x2="823.70" y2="557.50" stroke="#737373" stroke-width="1.1"/>
<line x1="604.40" y1="512.30" x2="823.70" y2="512.30" stroke="#737373" stroke-width="1.1"/>
<line x1="604.40" y1="467.10" x2="823.70" y2="467.10" stroke="#737373" stroke-width="1.1"/>
<line x1="604.40" y1="421.90" x2="823.70" y2="421.90" stroke="#737373" stroke-width="1.1"/>
<line x1="604.40" y1="421.90" x2="604.40" y2="603.45" stroke="#000" stroke-width="1.5"/>
<line x1="603.65" y1="602.70" x2="823.70" y2="602.70" stroke="#000" stroke-width="1.5"/>
<line x1="599.40" y1="602.70" x2="604.40" y2="602.70" stroke="#000" stroke-width="1.5"/>
<text x="595.00" y="608.60" text-anchor="end" font-size="16.0" font-weight="normal" fill="#000">0.5</text>
<line x1="599.40" y1="557.50" x2="604.40" y2="557.50" stroke="#000" stroke-width="1.5"/>
<text x="595.00" y="563.40" text-anchor="end" font-size="16.0" font-weight="normal" fill="#000">1.0</text>
<line x1="599.40" y1="512.30" x2="604.40" y2="512.30" stroke="#000" stroke-width="1.5"/>
<text x="595.00" y="518.20" text-anchor="end" font-size="16.0" font-weight="normal" fill="#000">1.5</text>
<line x1="599.40" y1="467.10" x2="604.40" y2="467.10" stroke="#000" stroke-width="1.5"/>
<text x="595.00" y="473.00" text-anchor="end" font-size="16.0" font-weight="normal" fill="#000">2.0</text>
<line x1="599.40" y1="421.90" x2="604.40" y2="421.90" stroke="#000" stroke-width="1.5"/>
<text x="595.00" y="427.80" text-anchor="end" font-size="16.0" font-weight="normal" fill="#000">2.5</text>
<line x1="604.40" y1="602.70" x2="604.40" y2="607.70" stroke="#000" stroke-width="1.5"/>
<text x="604.40" y="628.00" text-anchor="middle" font-size="16.0" font-weight="normal" fill="#000">0</text>
<line x1="677.50" y1="602.70" x2="677.50" y2="607.70" stroke="#000" stroke-width="1.5"/>
<text x="677.50" y="628.00" text-anchor="middle" font-size="16.0" font-weight="normal" fill="#000">200</text>
<line x1="750.60" y1="602.70" x2="750.60" y2="607.70" stroke="#000" stroke-width="1.5"/>
<text x="750.60" y="628.00" text-anchor="middle" font-size="16.0" font-weight="normal" fill="#000">400</text>
<line x1="823.70" y1="602.70" x2="823.70" y2="607.70" stroke="#000" stroke-width="1.5"/>
<text x="823.70" y="628.00" text-anchor="middle" font-size="16.0" font-weight="normal" fill="#000">600</text>
<text x="712.40" y="649.50" text-anchor="middle" font-size="16.0" font-weight="normal" fill="#000">Time (s)</text>
<text transform="translate(541.26,514.50) rotate(-90)" text-anchor="middle" font-size="16.0">Relative XPC-EGFP</text>
<text transform="translate(561.56,514.50) rotate(-90)" text-anchor="middle" font-size="16.0">accumulation</text>
<path d="M637,438.5 L637,428.1 L829.6,428.1 L829.6,438.5 M689.6,428.1 L689.6,438.5 M736.4,428.1 L736.4,438.5" stroke="#000" stroke-width="1.5" fill="none"/>
<path d="M637.00,455.60 L637.00,445.00 L829.60,445.00 L829.60,455.60" stroke="#000" stroke-width="1.5" fill="none"/>
<path d="M663.00,418.20L663.72,420.11L665.76,420.20L664.16,421.48L664.70,423.45L663.00,422.32L661.30,423.45L661.84,421.48L660.24,420.20L662.28,420.11Z" fill="#f57c1f"/>
<path d="M712.60,418.20L713.32,420.11L715.36,420.20L713.76,421.48L714.30,423.45L712.60,422.32L710.90,423.45L711.44,421.48L709.84,420.20L711.88,420.11ZM718.20,418.20L718.92,420.11L720.96,420.20L719.36,421.48L719.90,423.45L718.20,422.32L716.50,423.45L717.04,421.48L715.44,420.20L717.48,420.11Z" fill="#f57c1f"/>
<path d="M778.00,418.20L778.72,420.11L780.76,420.20L779.16,421.48L779.70,423.45L778.00,422.32L776.30,423.45L776.84,421.48L775.24,420.20L777.28,420.11Z" fill="#f57c1f"/>
<path d="M722.20,436.00L722.92,437.91L724.96,438.00L723.36,439.28L723.90,441.25L722.20,440.12L720.50,441.25L721.04,439.28L719.44,438.00L721.48,437.91ZM727.80,436.00L728.52,437.91L730.56,438.00L728.96,439.28L729.50,441.25L727.80,440.12L726.10,441.25L726.64,439.28L725.04,438.00L727.08,437.91Z" fill="#6a1a7a"/>
<clipPath id="clc"><rect x="604.4" y="400" width="245.60000000000002" height="203"/></clipPath>
<g clip-path="url(#clc)">
<path d="M604.40,557.31 L609.88,554.10 L615.37,543.28 L620.85,533.62 L626.33,525.42 L631.81,517.93 L637.29,512.02 L642.78,506.56 L648.26,501.49 L653.74,497.31 L659.23,493.21 L664.71,490.43 L670.19,486.34 L675.67,484.20 L681.15,482.66 L686.64,480.56 L692.12,478.70 L697.60,477.16 L703.09,476.17 L708.57,473.93 L714.05,472.67 L719.53,472.49 L725.01,471.63 L730.50,471.46 L735.98,470.77 L741.46,469.83 L746.94,469.40 L752.43,468.09 L757.91,468.61 L763.39,468.41 L768.88,466.70 L774.36,466.97 L779.84,467.21 L785.32,466.34 L790.80,466.82 L796.29,465.84 L801.77,464.95 L807.25,464.89 L812.74,464.91 L818.22,465.34 L823.70,464.99" stroke="#21508f" stroke-width="3.0" fill="none" stroke-linejoin="round"/>
<path d="M604.40,550.81L610.90,557.31L604.40,563.81L597.90,557.31ZM609.88,547.60L616.38,554.10L609.88,560.60L603.38,554.10ZM615.37,536.78L621.87,543.28L615.37,549.78L608.87,543.28ZM620.85,527.12L627.35,533.62L620.85,540.12L614.35,533.62ZM626.33,518.92L632.83,525.42L626.33,531.92L619.83,525.42ZM631.81,511.43L638.31,517.93L631.81,524.43L625.31,517.93ZM637.29,505.52L643.79,512.02L637.29,518.52L630.79,512.02ZM642.78,500.06L649.28,506.56L642.78,513.06L636.28,506.56ZM648.26,494.99L654.76,501.49L648.26,507.99L641.76,501.49ZM653.74,490.81L660.24,497.31L653.74,503.81L647.24,497.31ZM659.23,486.71L665.73,493.21L659.23,499.71L652.73,493.21ZM664.71,483.93L671.21,490.43L664.71,496.93L658.21,490.43ZM670.19,479.84L676.69,486.34L670.19,492.84L663.69,486.34ZM675.67,477.70L682.17,484.20L675.67,490.70L669.17,484.20ZM681.15,476.16L687.65,482.66L681.15,489.16L674.65,482.66ZM686.64,474.06L693.14,480.56L686.64,487.06L680.14,480.56ZM692.12,472.20L698.62,478.70L692.12,485.20L685.62,478.70ZM697.60,470.66L704.10,477.16L697.60,483.66L691.10,477.16ZM703.09,469.67L709.59,476.17L703.09,482.67L696.59,476.17ZM708.57,467.43L715.07,473.93L708.57,480.43L702.07,473.93ZM714.05,466.17L720.55,472.67L714.05,479.17L707.55,472.67ZM719.53,465.99L726.03,472.49L719.53,478.99L713.03,472.49ZM725.01,465.13L731.51,471.63L725.01,478.13L718.51,471.63ZM730.50,464.96L737.00,471.46L730.50,477.96L724.00,471.46ZM735.98,464.27L742.48,470.77L735.98,477.27L729.48,470.77ZM741.46,463.33L747.96,469.83L741.46,476.33L734.96,469.83ZM746.94,462.90L753.44,469.40L746.94,475.90L740.44,469.40ZM752.43,461.59L758.93,468.09L752.43,474.59L745.93,468.09ZM757.91,462.11L764.41,468.61L757.91,475.11L751.41,468.61ZM763.39,461.91L769.89,468.41L763.39,474.91L756.89,468.41ZM768.88,460.20L775.38,466.70L768.88,473.20L762.38,466.70ZM774.36,460.47L780.86,466.97L774.36,473.47L767.86,466.97ZM779.84,460.71L786.34,467.21L779.84,473.71L773.34,467.21ZM785.32,459.84L791.82,466.34L785.32,472.84L778.82,466.34ZM790.80,460.32L797.30,466.82L790.80,473.32L784.30,466.82ZM796.29,459.34L802.79,465.84L796.29,472.34L789.79,465.84ZM801.77,458.45L808.27,464.95L801.77,471.45L795.27,464.95ZM807.25,458.39L813.75,464.89L807.25,471.39L800.75,464.89ZM812.74,458.41L819.24,464.91L812.74,471.41L806.24,464.91ZM818.22,458.84L824.72,465.34L818.22,471.84L811.72,465.34ZM823.70,458.49L830.20,464.99L823.70,471.49L817.20,464.99Z" fill="#21508f"/>
</g>
<g clip-path="url(#clc)">
<path d="M604.40,557.98 L609.88,547.28 L615.37,539.18 L620.85,531.54 L626.33,525.93 L631.81,520.70 L637.29,515.21 L642.78,510.96 L648.26,507.72 L653.74,504.82 L659.23,502.26 L664.71,500.18 L670.19,499.04 L675.67,496.99 L681.15,495.83 L686.64,495.10 L692.12,494.07 L697.60,492.81 L703.09,492.08 L708.57,490.79 L714.05,489.84 L719.53,490.09 L725.01,488.96 L730.50,488.52 L735.98,488.26 L741.46,488.84 L746.94,488.82 L752.43,488.61 L757.91,488.48 L763.39,488.33 L768.88,487.59 L774.36,487.08 L779.84,487.08 L785.32,487.52 L790.80,487.20 L796.29,487.09 L801.77,488.59 L807.25,488.22 L812.74,488.33 L818.22,488.99 L823.70,489.51" stroke="#fb6b09" stroke-width="3.0" fill="none" stroke-linejoin="round"/>
<path d="M598.50,552.08h11.80v11.80h-11.80ZM603.98,541.38h11.80v11.80h-11.80ZM609.47,533.28h11.80v11.80h-11.80ZM614.95,525.64h11.80v11.80h-11.80ZM620.43,520.03h11.80v11.80h-11.80ZM625.91,514.80h11.80v11.80h-11.80ZM631.39,509.31h11.80v11.80h-11.80ZM636.88,505.06h11.80v11.80h-11.80ZM642.36,501.82h11.80v11.80h-11.80ZM647.84,498.92h11.80v11.80h-11.80ZM653.33,496.36h11.80v11.80h-11.80ZM658.81,494.28h11.80v11.80h-11.80ZM664.29,493.14h11.80v11.80h-11.80ZM669.77,491.09h11.80v11.80h-11.80ZM675.25,489.93h11.80v11.80h-11.80ZM680.74,489.20h11.80v11.80h-11.80ZM686.22,488.17h11.80v11.80h-11.80ZM691.70,486.91h11.80v11.80h-11.80ZM697.19,486.18h11.80v11.80h-11.80ZM702.67,484.89h11.80v11.80h-11.80ZM708.15,483.94h11.80v11.80h-11.80ZM713.63,484.19h11.80v11.80h-11.80ZM719.12,483.06h11.80v11.80h-11.80ZM724.60,482.62h11.80v11.80h-11.80ZM730.08,482.36h11.80v11.80h-11.80ZM735.56,482.94h11.80v11.80h-11.80ZM741.04,482.92h11.80v11.80h-11.80ZM746.53,482.71h11.80v11.80h-11.80ZM752.01,482.58h11.80v11.80h-11.80ZM757.49,482.43h11.80v11.80h-11.80ZM762.98,481.69h11.80v11.80h-11.80ZM768.46,481.18h11.80v11.80h-11.80ZM773.94,481.18h11.80v11.80h-11.80ZM779.42,481.62h11.80v11.80h-11.80ZM784.90,481.30h11.80v11.80h-11.80ZM790.39,481.19h11.80v11.80h-11.80ZM795.87,482.69h11.80v11.80h-11.80ZM801.35,482.32h11.80v11.80h-11.80ZM806.84,482.43h11.80v11.80h-11.80ZM812.32,483.09h11.80v11.80h-11.80ZM817.80,483.61h11.80v11.80h-11.80Z" fill="#fb6b09"/>
</g>
<g clip-path="url(#clc)">
<path d="M604.40,557.53 L609.88,549.78 L615.37,541.90 L620.85,536.60 L626.33,530.82 L631.81,526.22 L637.29,523.34 L642.78,520.15 L648.26,516.65 L653.74,514.66 L659.23,513.49 L664.71,511.86 L670.19,510.38 L675.67,508.06 L681.15,507.15 L686.64,507.21 L692.12,505.46 L697.60,504.58 L703.09,504.49 L708.57,504.46 L714.05,503.76 L719.53,504.02 L725.01,503.89 L730.50,502.25 L735.98,502.50 L741.46,502.50 L746.94,501.75 L752.43,502.34 L757.91,501.59 L763.39,501.56 L768.88,502.36 L774.36,502.77 L779.84,503.19 L785.32,503.76 L790.80,503.76 L796.29,504.74 L801.77,505.01 L807.25,505.95 L812.74,505.34 L818.22,506.66 L823.70,507.04" stroke="#6b0a76" stroke-width="3.0" fill="none" stroke-linejoin="round"/>
<path d="M604.40,550.93L610.40,562.03L598.40,562.03ZM609.88,543.18L615.88,554.28L603.88,554.28ZM615.37,535.30L621.37,546.40L609.37,546.40ZM620.85,530.00L626.85,541.10L614.85,541.10ZM626.33,524.22L632.33,535.32L620.33,535.32ZM631.81,519.62L637.81,530.72L625.81,530.72ZM637.29,516.74L643.29,527.84L631.29,527.84ZM642.78,513.55L648.78,524.65L636.78,524.65ZM648.26,510.05L654.26,521.15L642.26,521.15ZM653.74,508.06L659.74,519.16L647.74,519.16ZM659.23,506.89L665.23,517.99L653.23,517.99ZM664.71,505.26L670.71,516.36L658.71,516.36ZM670.19,503.78L676.19,514.88L664.19,514.88ZM675.67,501.46L681.67,512.56L669.67,512.56ZM681.15,500.55L687.15,511.65L675.15,511.65ZM686.64,500.61L692.64,511.71L680.64,511.71ZM692.12,498.86L698.12,509.96L686.12,509.96ZM697.60,497.98L703.60,509.08L691.60,509.08ZM703.09,497.89L709.09,508.99L697.09,508.99ZM708.57,497.86L714.57,508.96L702.57,508.96ZM714.05,497.16L720.05,508.26L708.05,508.26ZM719.53,497.42L725.53,508.52L713.53,508.52ZM725.01,497.29L731.01,508.39L719.01,508.39ZM730.50,495.65L736.50,506.75L724.50,506.75ZM735.98,495.90L741.98,507.00L729.98,507.00ZM741.46,495.90L747.46,507.00L735.46,507.00ZM746.94,495.15L752.94,506.25L740.94,506.25ZM752.43,495.74L758.43,506.84L746.43,506.84ZM757.91,494.99L763.91,506.09L751.91,506.09ZM763.39,494.96L769.39,506.06L757.39,506.06ZM768.88,495.76L774.88,506.86L762.88,506.86ZM774.36,496.17L780.36,507.27L768.36,507.27ZM779.84,496.59L785.84,507.69L773.84,507.69ZM785.32,497.16L791.32,508.26L779.32,508.26ZM790.80,497.16L796.80,508.26L784.80,508.26ZM796.29,498.14L802.29,509.24L790.29,509.24ZM801.77,498.41L807.77,509.51L795.77,509.51ZM807.25,499.35L813.25,510.45L801.25,510.45ZM812.74,498.74L818.74,509.84L806.74,509.84ZM818.22,500.06L824.22,511.16L812.22,511.16ZM823.70,500.44L829.70,511.54L817.70,511.54Z" fill="#6b0a76"/>
</g>
<text x="870.40" y="492.50" text-anchor="start" font-size="16.0" font-weight="normal" fill="#000">(HeLa)</text>
<line x1="865.30" y1="514.9" x2="897.60" y2="514.9" stroke="#21508f" stroke-width="3.6" stroke-linecap="round"/>
<path d="M881.50,509.30L887.10,514.90L881.50,520.50L875.90,514.90Z" fill="#21508f"/>
<line x1="865.30" y1="545.2" x2="897.60" y2="545.2" stroke="#fb6b09" stroke-width="3.6" stroke-linecap="round"/>
<path d="M876.10,539.80h10.80v10.80h-10.80Z" fill="#fb6b09"/>
<line x1="865.30" y1="575.4" x2="897.60" y2="575.4" stroke="#6b0a76" stroke-width="3.6" stroke-linecap="round"/>
<path d="M881.50,569.24L887.10,579.60L875.90,579.60Z" fill="#6b0a76"/>
<text x="905.50" y="520.00" text-anchor="start" font-size="16.0" font-weight="normal" fill="#000">WT</text>
<text x="905.50" y="550.20" text-anchor="start" font-size="16.0" font-weight="normal" fill="#000">EQ</text>
<text x="905.50" y="580.40" text-anchor="start" font-size="16.0" font-weight="normal" fill="#000">SA</text>
<line x1="113.30" y1="876.80" x2="328.50" y2="876.80" stroke="#737373" stroke-width="1.1"/>
<line x1="113.30" y1="828.40" x2="328.50" y2="828.40" stroke="#737373" stroke-width="1.1"/>
<line x1="113.30" y1="780.00" x2="328.50" y2="780.00" stroke="#737373" stroke-width="1.1"/>
<line x1="113.30" y1="731.60" x2="328.50" y2="731.60" stroke="#737373" stroke-width="1.1"/>
<line x1="113.30" y1="731.60" x2="113.30" y2="925.95" stroke="#000" stroke-width="1.5"/>
<line x1="112.55" y1="925.20" x2="328.50" y2="925.20" stroke="#000" stroke-width="1.5"/>
<line x1="108.30" y1="925.20" x2="113.30" y2="925.20" stroke="#000" stroke-width="1.5"/>
<text x="102.30" y="931.10" text-anchor="end" font-size="16.0" font-weight="normal" fill="#000">0.5</text>
<line x1="108.30" y1="876.80" x2="113.30" y2="876.80" stroke="#000" stroke-width="1.5"/>
<text x="102.30" y="882.70" text-anchor="end" font-size="16.0" font-weight="normal" fill="#000">1.0</text>
<line x1="108.30" y1="828.40" x2="113.30" y2="828.40" stroke="#000" stroke-width="1.5"/>
<text x="102.30" y="834.30" text-anchor="end" font-size="16.0" font-weight="normal" fill="#000">1.5</text>
<line x1="108.30" y1="780.00" x2="113.30" y2="780.00" stroke="#000" stroke-width="1.5"/>
<text x="102.30" y="785.90" text-anchor="end" font-size="16.0" font-weight="normal" fill="#000">2.0</text>
<line x1="108.30" y1="731.60" x2="113.30" y2="731.60" stroke="#000" stroke-width="1.5"/>
<text x="102.30" y="737.50" text-anchor="end" font-size="16.0" font-weight="normal" fill="#000">2.5</text>
<line x1="113.30" y1="925.20" x2="113.30" y2="930.20" stroke="#000" stroke-width="1.5"/>
<text x="113.30" y="950.20" text-anchor="middle" font-size="16.0" font-weight="normal" fill="#000">0</text>
<line x1="185.03" y1="925.20" x2="185.03" y2="930.20" stroke="#000" stroke-width="1.5"/>
<text x="185.03" y="950.20" text-anchor="middle" font-size="16.0" font-weight="normal" fill="#000">200</text>
<line x1="256.77" y1="925.20" x2="256.77" y2="930.20" stroke="#000" stroke-width="1.5"/>
<text x="256.77" y="950.20" text-anchor="middle" font-size="16.0" font-weight="normal" fill="#000">400</text>
<line x1="328.50" y1="925.20" x2="328.50" y2="930.20" stroke="#000" stroke-width="1.5"/>
<text x="328.50" y="950.20" text-anchor="middle" font-size="16.0" font-weight="normal" fill="#000">600</text>
<text x="222.50" y="971.70" text-anchor="middle" font-size="16.0" font-weight="normal" fill="#000">Time (s)</text>
<text transform="translate(45.86,827.50) rotate(-90)" text-anchor="middle" font-size="16.0">Relative XPC-EGFP</text>
<text transform="translate(66.06,827.50) rotate(-90)" text-anchor="middle" font-size="16.0">accumulation</text>
<path d="M148.30,763.00 L148.30,752.00 L341.10,752.00 L341.10,763.00" stroke="#000" stroke-width="1.5" fill="none"/>
<path d="M239.00,741.20L239.72,743.11L241.76,743.20L240.16,744.48L240.70,746.45L239.00,745.32L237.30,746.45L237.84,744.48L236.24,743.20L238.28,743.11ZM244.60,741.20L245.32,743.11L247.36,743.20L245.76,744.48L246.30,746.45L244.60,745.32L242.90,746.45L243.44,744.48L241.84,743.20L243.88,743.11Z" fill="#c0504d"/>
<clipPath id="cld"><rect x="113.3" y="700" width="236.7" height="225"/></clipPath>
<g clip-path="url(#cld)">
<path d="M113.30,876.67 L118.68,871.76 L124.06,863.72 L129.44,854.99 L134.82,848.44 L140.20,841.88 L145.58,836.00 L150.96,831.45 L156.34,825.97 L161.72,822.00 L167.10,818.33 L172.48,813.52 L177.86,811.26 L183.24,807.87 L188.62,804.83 L194.00,802.69 L199.38,800.88 L204.76,798.62 L210.14,796.79 L215.52,794.83 L220.90,794.43 L226.28,792.41 L231.66,791.70 L237.04,790.58 L242.42,788.84 L247.80,788.37 L253.18,787.49 L258.56,786.46 L263.94,785.57 L269.32,785.71 L274.70,784.91 L280.08,784.59 L285.46,784.14 L290.84,783.47 L296.22,783.48 L301.60,783.03 L306.98,782.82 L312.36,781.84 L317.74,781.98 L323.12,781.48 L328.50,781.19" stroke="#4f81bd" stroke-width="3.0" fill="none" stroke-linejoin="round"/>
<line x1="231.66" y1="783.40" x2="231.66" y2="800.00" stroke="#000" stroke-width="1.3"/>
<line x1="237.04" y1="782.28" x2="237.04" y2="798.88" stroke="#000" stroke-width="1.3"/>
<line x1="242.42" y1="780.54" x2="242.42" y2="797.14" stroke="#000" stroke-width="1.3"/>
<line x1="247.80" y1="780.07" x2="247.80" y2="796.67" stroke="#000" stroke-width="1.3"/>
<line x1="253.18" y1="779.19" x2="253.18" y2="795.79" stroke="#000" stroke-width="1.3"/>
<line x1="258.56" y1="778.16" x2="258.56" y2="794.76" stroke="#000" stroke-width="1.3"/>
<line x1="263.94" y1="777.27" x2="263.94" y2="793.87" stroke="#000" stroke-width="1.3"/>
<line x1="269.32" y1="777.41" x2="269.32" y2="794.01" stroke="#000" stroke-width="1.3"/>
<line x1="274.70" y1="776.61" x2="274.70" y2="793.21" stroke="#000" stroke-width="1.3"/>
<line x1="280.08" y1="776.29" x2="280.08" y2="792.89" stroke="#000" stroke-width="1.3"/>
<line x1="285.46" y1="775.84" x2="285.46" y2="792.44" stroke="#000" stroke-width="1.3"/>
<line x1="290.84" y1="775.17" x2="290.84" y2="791.77" stroke="#000" stroke-width="1.3"/>
<line x1="296.22" y1="775.18" x2="296.22" y2="791.78" stroke="#000" stroke-width="1.3"/>
<line x1="301.60" y1="774.73" x2="301.60" y2="791.33" stroke="#000" stroke-width="1.3"/>
<line x1="306.98" y1="774.52" x2="306.98" y2="791.12" stroke="#000" stroke-width="1.3"/>
<line x1="312.36" y1="773.54" x2="312.36" y2="790.14" stroke="#000" stroke-width="1.3"/>
<line x1="317.74" y1="773.68" x2="317.74" y2="790.28" stroke="#000" stroke-width="1.3"/>
<line x1="323.12" y1="773.18" x2="323.12" y2="789.78" stroke="#000" stroke-width="1.3"/>
<line x1="328.50" y1="772.89" x2="328.50" y2="789.49" stroke="#000" stroke-width="1.3"/>
<path d="M113.30,870.17L119.80,876.67L113.30,883.17L106.80,876.67ZM118.68,865.26L125.18,871.76L118.68,878.26L112.18,871.76ZM124.06,857.22L130.56,863.72L124.06,870.22L117.56,863.72ZM129.44,848.49L135.94,854.99L129.44,861.49L122.94,854.99ZM134.82,841.94L141.32,848.44L134.82,854.94L128.32,848.44ZM140.20,835.38L146.70,841.88L140.20,848.38L133.70,841.88ZM145.58,829.50L152.08,836.00L145.58,842.50L139.08,836.00ZM150.96,824.95L157.46,831.45L150.96,837.95L144.46,831.45ZM156.34,819.47L162.84,825.97L156.34,832.47L149.84,825.97ZM161.72,815.50L168.22,822.00L161.72,828.50L155.22,822.00ZM167.10,811.83L173.60,818.33L167.10,824.83L160.60,818.33ZM172.48,807.02L178.98,813.52L172.48,820.02L165.98,813.52ZM177.86,804.76L184.36,811.26L177.86,817.76L171.36,811.26ZM183.24,801.37L189.74,807.87L183.24,814.37L176.74,807.87ZM188.62,798.33L195.12,804.83L188.62,811.33L182.12,804.83ZM194.00,796.19L200.50,802.69L194.00,809.19L187.50,802.69ZM199.38,794.38L205.88,800.88L199.38,807.38L192.88,800.88ZM204.76,792.12L211.26,798.62L204.76,805.12L198.26,798.62ZM210.14,790.29L216.64,796.79L210.14,803.29L203.64,796.79ZM215.52,788.33L222.02,794.83L215.52,801.33L209.02,794.83ZM220.90,787.93L227.40,794.43L220.90,800.93L214.40,794.43ZM226.28,785.91L232.78,792.41L226.28,798.91L219.78,792.41ZM231.66,785.20L238.16,791.70L231.66,798.20L225.16,791.70ZM237.04,784.08L243.54,790.58L237.04,797.08L230.54,790.58ZM242.42,782.34L248.92,788.84L242.42,795.34L235.92,788.84ZM247.80,781.87L254.30,788.37L247.80,794.87L241.30,788.37ZM253.18,780.99L259.68,787.49L253.18,793.99L246.68,787.49ZM258.56,779.96L265.06,786.46L258.56,792.96L252.06,786.46ZM263.94,779.07L270.44,785.57L263.94,792.07L257.44,785.57ZM269.32,779.21L275.82,785.71L269.32,792.21L262.82,785.71ZM274.70,778.41L281.20,784.91L274.70,791.41L268.20,784.91ZM280.08,778.09L286.58,784.59L280.08,791.09L273.58,784.59ZM285.46,777.64L291.96,784.14L285.46,790.64L278.96,784.14ZM290.84,776.97L297.34,783.47L290.84,789.97L284.34,783.47ZM296.22,776.98L302.72,783.48L296.22,789.98L289.72,783.48ZM301.60,776.53L308.10,783.03L301.60,789.53L295.10,783.03ZM306.98,776.32L313.48,782.82L306.98,789.32L300.48,782.82ZM312.36,775.34L318.86,781.84L312.36,788.34L305.86,781.84ZM317.74,775.48L324.24,781.98L317.74,788.48L311.24,781.98ZM323.12,774.98L329.62,781.48L323.12,787.98L316.62,781.48ZM328.50,774.69L335.00,781.19L328.50,787.69L322.00,781.19Z" fill="#4f81bd"/>
</g>
<g clip-path="url(#cld)">
<path d="M113.30,877.17 L118.68,876.56 L124.06,866.48 L129.44,861.22 L134.82,858.03 L140.20,854.66 L145.58,851.46 L150.96,849.89 L156.34,847.91 L161.72,846.79 L167.10,844.75 L172.48,843.66 L177.86,842.75 L183.24,843.28 L188.62,841.90 L194.00,841.55 L199.38,841.98 L204.76,840.51 L210.14,840.09 L215.52,841.00 L220.90,839.63 L226.28,840.28 L231.66,839.94 L237.04,838.97 L242.42,839.04 L247.80,839.91 L253.18,839.32 L258.56,839.03 L263.94,839.15 L269.32,839.22 L274.70,838.87 L280.08,838.10 L285.46,839.04 L290.84,838.06 L296.22,838.09 L301.60,838.59 L306.98,837.96 L312.36,837.36 L317.74,837.39 L323.12,837.94 L328.50,836.36" stroke="#c0504d" stroke-width="3.0" fill="none" stroke-linejoin="round"/>
<path d="M107.30,871.17h12.00v12.00h-12.00ZM112.68,870.56h12.00v12.00h-12.00ZM118.06,860.48h12.00v12.00h-12.00ZM123.44,855.22h12.00v12.00h-12.00ZM128.82,852.03h12.00v12.00h-12.00ZM134.20,848.66h12.00v12.00h-12.00ZM139.58,845.46h12.00v12.00h-12.00ZM144.96,843.89h12.00v12.00h-12.00ZM150.34,841.91h12.00v12.00h-12.00ZM155.72,840.79h12.00v12.00h-12.00ZM161.10,838.75h12.00v12.00h-12.00ZM166.48,837.66h12.00v12.00h-12.00ZM171.86,836.75h12.00v12.00h-12.00ZM177.24,837.28h12.00v12.00h-12.00ZM182.62,835.90h12.00v12.00h-12.00ZM188.00,835.55h12.00v12.00h-12.00ZM193.38,835.98h12.00v12.00h-12.00ZM198.76,834.51h12.00v12.00h-12.00ZM204.14,834.09h12.00v12.00h-12.00ZM209.52,835.00h12.00v12.00h-12.00ZM214.90,833.63h12.00v12.00h-12.00ZM220.28,834.28h12.00v12.00h-12.00ZM225.66,833.94h12.00v12.00h-12.00ZM231.04,832.97h12.00v12.00h-12.00ZM236.42,833.04h12.00v12.00h-12.00ZM241.80,833.91h12.00v12.00h-12.00ZM247.18,833.32h12.00v12.00h-12.00ZM252.56,833.03h12.00v12.00h-12.00ZM257.94,833.15h12.00v12.00h-12.00ZM263.32,833.22h12.00v12.00h-12.00ZM268.70,832.87h12.00v12.00h-12.00ZM274.08,832.10h12.00v12.00h-12.00ZM279.46,833.04h12.00v12.00h-12.00ZM284.84,832.06h12.00v12.00h-12.00ZM290.22,832.09h12.00v12.00h-12.00ZM295.60,832.59h12.00v12.00h-12.00ZM300.98,831.96h12.00v12.00h-12.00ZM306.36,831.36h12.00v12.00h-12.00ZM311.74,831.39h12.00v12.00h-12.00ZM317.12,831.94h12.00v12.00h-12.00ZM322.50,830.36h12.00v12.00h-12.00Z" fill="#c0504d"/>
</g>
<text x="365.20" y="850.10" text-anchor="start" font-size="16.0" font-weight="normal" fill="#000">(HeLa)</text>
<line x1="346.10" y1="868.4" x2="378.90" y2="868.4" stroke="#4f81bd" stroke-width="3.6" stroke-linecap="round"/>
<path d="M362.50,862.80L368.10,868.40L362.50,874.00L356.90,868.40Z" fill="#4f81bd"/>
<line x1="346.10" y1="894.2" x2="378.90" y2="894.2" stroke="#c0504d" stroke-width="3.6" stroke-linecap="round"/>
<path d="M355.90,887.60h13.20v13.20h-13.20Z" fill="#c0504d"/>
<text x="390.00" y="873.60" text-anchor="start" font-size="16.0" font-weight="normal" fill="#000">DMSO</text>
<text x="390.00" y="900.00" text-anchor="start" font-size="16.0" font-weight="normal" fill="#000">ATM+ATR</text>
<line x1="665.20" y1="912.97" x2="829.80" y2="912.97" stroke="#737373" stroke-width="1.1"/>
<line x1="665.20" y1="877.93" x2="829.80" y2="877.93" stroke="#737373" stroke-width="1.1"/>
<line x1="665.20" y1="842.90" x2="829.80" y2="842.90" stroke="#737373" stroke-width="1.1"/>
<line x1="665.20" y1="807.86" x2="829.80" y2="807.86" stroke="#737373" stroke-width="1.1"/>
<line x1="665.20" y1="772.83" x2="829.80" y2="772.83" stroke="#737373" stroke-width="1.1"/>
<line x1="665.20" y1="737.80" x2="829.80" y2="737.80" stroke="#737373" stroke-width="1.1"/>
<line x1="665.20" y1="737.80" x2="665.20" y2="948.75" stroke="#000" stroke-width="1.5"/>
<line x1="664.45" y1="948.00" x2="829.80" y2="948.00" stroke="#000" stroke-width="1.5"/>
<line x1="660.20" y1="948.00" x2="665.20" y2="948.00" stroke="#000" stroke-width="1.5"/>
<text x="654.30" y="953.90" text-anchor="end" font-size="16.0" font-weight="normal" fill="#000">0</text>
<line x1="660.20" y1="912.97" x2="665.20" y2="912.97" stroke="#000" stroke-width="1.5"/>
<text x="654.30" y="918.87" text-anchor="end" font-size="16.0" font-weight="normal" fill="#000">20</text>
<line x1="660.20" y1="877.93" x2="665.20" y2="877.93" stroke="#000" stroke-width="1.5"/>
<text x="654.30" y="883.83" text-anchor="end" font-size="16.0" font-weight="normal" fill="#000">40</text>
<line x1="660.20" y1="842.90" x2="665.20" y2="842.90" stroke="#000" stroke-width="1.5"/>
<text x="654.30" y="848.80" text-anchor="end" font-size="16.0" font-weight="normal" fill="#000">60</text>
<line x1="660.20" y1="807.86" x2="665.20" y2="807.86" stroke="#000" stroke-width="1.5"/>
<text x="654.30" y="813.76" text-anchor="end" font-size="16.0" font-weight="normal" fill="#000">80</text>
<line x1="660.20" y1="772.83" x2="665.20" y2="772.83" stroke="#000" stroke-width="1.5"/>
<text x="654.30" y="778.73" text-anchor="end" font-size="16.0" font-weight="normal" fill="#000">100</text>
<line x1="660.20" y1="737.80" x2="665.20" y2="737.80" stroke="#000" stroke-width="1.5"/>
<text x="654.30" y="743.70" text-anchor="end" font-size="16.0" font-weight="normal" fill="#000">120</text>
<line x1="665.20" y1="948.00" x2="665.20" y2="953.00" stroke="#000" stroke-width="1.5"/>
<line x1="747.50" y1="948.00" x2="747.50" y2="953.00" stroke="#000" stroke-width="1.5"/>
<line x1="829.80" y1="948.00" x2="829.80" y2="953.00" stroke="#000" stroke-width="1.5"/>
<rect x="690.70" y="772.83" width="33.10" height="175.17" fill="url(#gb)"/>
<rect x="773.40" y="805.24" width="32.70" height="142.76" fill="url(#gb)"/>
<line x1="706.00" y1="759.69" x2="706.00" y2="772.83" stroke="#000" stroke-width="1.5"/>
<line x1="702.50" y1="759.69" x2="709.50" y2="759.69" stroke="#000" stroke-width="1.5"/>
<line x1="788.80" y1="788.60" x2="788.80" y2="805.24" stroke="#000" stroke-width="1.5"/>
<line x1="785.30" y1="788.60" x2="792.30" y2="788.60" stroke="#000" stroke-width="1.5"/>
<path d="M711.60,756.50 L711.60,748.40 L790.30,748.40 L790.30,756.50" stroke="#000" stroke-width="1.4" fill="none"/>
<path d="M747.90,740.00L748.62,741.91L750.66,742.00L749.06,743.28L749.60,745.25L747.90,744.12L746.20,745.25L746.74,743.28L745.14,742.00L747.18,741.91ZM753.50,740.00L754.22,741.91L756.26,742.00L754.66,743.28L755.20,745.25L753.50,744.12L751.80,745.25L752.34,743.28L750.74,742.00L752.78,741.91Z" fill="#000"/>
<text x="747.20" y="729.20" text-anchor="middle" font-size="16.0" font-weight="normal" fill="#000">(HeLa)</text>
<text x="706.90" y="972.00" text-anchor="middle" font-size="16.0" font-weight="normal" fill="#000">DMSO</text>
<text x="789.50" y="972.00" text-anchor="middle" font-size="16.0" font-weight="normal" fill="#000">ATM+ATR</text>
<text transform="translate(598.26,837.40) rotate(-90)" text-anchor="middle" font-size="16.0">Relative fluorescence</text>
<text transform="translate(619.96,837.40) rotate(-90)" text-anchor="middle" font-size="16.0">of XPC / DDB2 (%)</text>
<line x1="84.00" y1="1248.75" x2="341.00" y2="1248.75" stroke="#737373" stroke-width="1.1"/>
<line x1="84.00" y1="1221.40" x2="341.00" y2="1221.40" stroke="#737373" stroke-width="1.1"/>
<line x1="84.00" y1="1194.05" x2="341.00" y2="1194.05" stroke="#737373" stroke-width="1.1"/>
<line x1="84.00" y1="1166.70" x2="341.00" y2="1166.70" stroke="#737373" stroke-width="1.1"/>
<line x1="84.00" y1="1139.35" x2="341.00" y2="1139.35" stroke="#737373" stroke-width="1.1"/>
<line x1="84.00" y1="1112.00" x2="341.00" y2="1112.00" stroke="#737373" stroke-width="1.1"/>
<line x1="84.00" y1="1084.65" x2="341.00" y2="1084.65" stroke="#737373" stroke-width="1.1"/>
<line x1="84.00" y1="1084.65" x2="84.00" y2="1276.85" stroke="#000" stroke-width="1.5"/>
<line x1="83.25" y1="1276.10" x2="341.00" y2="1276.10" stroke="#000" stroke-width="1.5"/>
<line x1="79.00" y1="1276.10" x2="84.00" y2="1276.10" stroke="#000" stroke-width="1.5"/>
<text x="73.60" y="1282.00" text-anchor="end" font-size="16.0" font-weight="normal" fill="#000">0</text>
<line x1="79.00" y1="1248.75" x2="84.00" y2="1248.75" stroke="#000" stroke-width="1.5"/>
<text x="73.60" y="1254.65" text-anchor="end" font-size="16.0" font-weight="normal" fill="#000">20</text>
<line x1="79.00" y1="1221.40" x2="84.00" y2="1221.40" stroke="#000" stroke-width="1.5"/>
<text x="73.60" y="1227.30" text-anchor="end" font-size="16.0" font-weight="normal" fill="#000">40</text>
<line x1="79.00" y1="1194.05" x2="84.00" y2="1194.05" stroke="#000" stroke-width="1.5"/>
<text x="73.60" y="1199.95" text-anchor="end" font-size="16.0" font-weight="normal" fill="#000">60</text>
<line x1="79.00" y1="1166.70" x2="84.00" y2="1166.70" stroke="#000" stroke-width="1.5"/>
<text x="73.60" y="1172.60" text-anchor="end" font-size="16.0" font-weight="normal" fill="#000">80</text>
<line x1="79.00" y1="1139.35" x2="84.00" y2="1139.35" stroke="#000" stroke-width="1.5"/>
<text x="73.60" y="1145.25" text-anchor="end" font-size="16.0" font-weight="normal" fill="#000">100</text>
<line x1="79.00" y1="1112.00" x2="84.00" y2="1112.00" stroke="#000" stroke-width="1.5"/>
<text x="73.60" y="1117.90" text-anchor="end" font-size="16.0" font-weight="normal" fill="#000">120</text>
<line x1="79.00" y1="1084.65" x2="84.00" y2="1084.65" stroke="#000" stroke-width="1.5"/>
<text x="73.60" y="1090.55" text-anchor="end" font-size="16.0" font-weight="normal" fill="#000">140</text>
<line x1="84.00" y1="1276.10" x2="84.00" y2="1281.10" stroke="#000" stroke-width="1.5"/>
<line x1="169.67" y1="1276.10" x2="169.67" y2="1281.10" stroke="#000" stroke-width="1.5"/>
<line x1="255.33" y1="1276.10" x2="255.33" y2="1281.10" stroke="#000" stroke-width="1.5"/>
<line x1="341.00" y1="1276.10" x2="341.00" y2="1281.10" stroke="#000" stroke-width="1.5"/>
<rect x="104.30" y="1139.35" width="24.00" height="136.75" fill="url(#gb)"/>
<rect x="128.30" y="1180.38" width="24.00" height="95.72" fill="url(#gr)"/>
<line x1="116.30" y1="1113.37" x2="116.30" y2="1139.35" stroke="#000" stroke-width="1.5"/>
<line x1="112.80" y1="1113.37" x2="119.80" y2="1113.37" stroke="#000" stroke-width="1.5"/>
<line x1="140.30" y1="1155.76" x2="140.30" y2="1180.38" stroke="#000" stroke-width="1.5"/>
<line x1="136.80" y1="1155.76" x2="143.80" y2="1155.76" stroke="#000" stroke-width="1.5"/>
<rect x="189.90" y="1192.68" width="24.00" height="83.42" fill="url(#gb)"/>
<rect x="213.90" y="1159.18" width="24.00" height="116.92" fill="url(#gr)"/>
<line x1="201.90" y1="1170.12" x2="201.90" y2="1192.68" stroke="#000" stroke-width="1.5"/>
<line x1="198.40" y1="1170.12" x2="205.40" y2="1170.12" stroke="#000" stroke-width="1.5"/>
<line x1="225.90" y1="1137.98" x2="225.90" y2="1159.18" stroke="#000" stroke-width="1.5"/>
<line x1="222.40" y1="1137.98" x2="229.40" y2="1137.98" stroke="#000" stroke-width="1.5"/>
<rect x="275.80" y="1184.48" width="24.00" height="91.62" fill="url(#gb)"/>
<rect x="299.80" y="1161.23" width="24.00" height="114.87" fill="url(#gr)"/>
<line x1="287.80" y1="1155.76" x2="287.80" y2="1184.48" stroke="#000" stroke-width="1.5"/>
<line x1="284.30" y1="1155.76" x2="291.30" y2="1155.76" stroke="#000" stroke-width="1.5"/>
<line x1="311.80" y1="1142.77" x2="311.80" y2="1161.23" stroke="#000" stroke-width="1.5"/>
<line x1="308.30" y1="1142.77" x2="315.30" y2="1142.77" stroke="#000" stroke-width="1.5"/>
<path d="M124.60,1097.50 L124.60,1083.50 L288.60,1083.50 L288.60,1100.90" stroke="#000" stroke-width="1.7" fill="none"/>
<path d="M123.60,1119.50 L123.60,1104.30 L206.40,1104.30 L206.40,1120.50" stroke="#000" stroke-width="1.7" fill="none"/>
<path d="M192.20,1070.30L192.92,1072.21L194.96,1072.30L193.36,1073.58L193.90,1075.55L192.20,1074.42L190.50,1075.55L191.04,1073.58L189.44,1072.30L191.48,1072.21ZM197.80,1070.30L198.52,1072.21L200.56,1072.30L198.96,1073.58L199.50,1075.55L197.80,1074.42L196.10,1075.55L196.64,1073.58L195.04,1072.30L197.08,1072.21Z" fill="#000"/>
<path d="M161.70,1094.30L162.42,1096.21L164.46,1096.30L162.86,1097.58L163.40,1099.55L161.70,1098.42L160.00,1099.55L160.54,1097.58L158.94,1096.30L160.98,1096.21ZM167.30,1094.30L168.02,1096.21L170.06,1096.30L168.46,1097.58L169.00,1099.55L167.30,1098.42L165.60,1099.55L166.14,1097.58L164.54,1096.30L166.58,1096.21Z" fill="#000"/>
<text x="207.50" y="1060.50" text-anchor="middle" font-size="16.0" font-weight="normal" fill="#000">XPC (HeLa)</text>
<text x="128.70" y="1301.00" text-anchor="middle" font-size="16.0" font-weight="normal" fill="#000">shCtl</text>
<text x="215.70" y="1301.00" text-anchor="middle" font-size="16.0" font-weight="normal" fill="#000">shDDB2</text>
<text x="300.80" y="1301.00" text-anchor="middle" font-size="16.0" font-weight="normal" fill="#000">shHBO1</text>
<rect x="350.10" y="1171.40" width="8.70" height="8.70" fill="url(#gbs)"/>
<rect x="350.10" y="1199.20" width="8.70" height="8.70" fill="url(#grs)"/>
<text x="363.30" y="1180.70" text-anchor="start" font-size="16.0" font-weight="normal" fill="#000">20 min</text>
<text x="363.30" y="1208.50" text-anchor="start" font-size="16.0" font-weight="normal" fill="#000">60 min</text>
<text transform="translate(15.06,1179.00) rotate(-90)" text-anchor="middle" font-size="16.0">Relative fluorescence</text>
<text transform="translate(32.76,1179.00) rotate(-90)" text-anchor="middle" font-size="16.0">of XPC/ CPD (%)</text>
<line x1="533.10" y1="1279.10" x2="871.60" y2="1279.10" stroke="#737373" stroke-width="1.1"/>
<line x1="533.10" y1="1243.90" x2="871.60" y2="1243.90" stroke="#737373" stroke-width="1.1"/>
<line x1="533.10" y1="1208.70" x2="871.60" y2="1208.70" stroke="#737373" stroke-width="1.1"/>
<line x1="533.10" y1="1173.50" x2="871.60" y2="1173.50" stroke="#737373" stroke-width="1.1"/>
<line x1="533.10" y1="1138.30" x2="871.60" y2="1138.30" stroke="#737373" stroke-width="1.1"/>
<line x1="533.10" y1="1103.10" x2="871.60" y2="1103.10" stroke="#737373" stroke-width="1.1"/>
<line x1="533.10" y1="1067.90" x2="871.60" y2="1067.90" stroke="#737373" stroke-width="1.1"/>
<line x1="533.10" y1="1067.90" x2="533.10" y2="1315.05" stroke="#000" stroke-width="1.5"/>
<line x1="532.35" y1="1314.30" x2="871.60" y2="1314.30" stroke="#000" stroke-width="1.5"/>
<line x1="528.10" y1="1314.30" x2="533.10" y2="1314.30" stroke="#000" stroke-width="1.5"/>
<text x="522.60" y="1320.20" text-anchor="end" font-size="16.0" font-weight="normal" fill="#000">0</text>
<line x1="528.10" y1="1279.10" x2="533.10" y2="1279.10" stroke="#000" stroke-width="1.5"/>
<text x="522.60" y="1285.00" text-anchor="end" font-size="16.0" font-weight="normal" fill="#000">20</text>
<line x1="528.10" y1="1243.90" x2="533.10" y2="1243.90" stroke="#000" stroke-width="1.5"/>
<text x="522.60" y="1249.80" text-anchor="end" font-size="16.0" font-weight="normal" fill="#000">40</text>
<line x1="528.10" y1="1208.70" x2="533.10" y2="1208.70" stroke="#000" stroke-width="1.5"/>
<text x="522.60" y="1214.60" text-anchor="end" font-size="16.0" font-weight="normal" fill="#000">60</text>
<line x1="528.10" y1="1173.50" x2="533.10" y2="1173.50" stroke="#000" stroke-width="1.5"/>
<text x="522.60" y="1179.40" text-anchor="end" font-size="16.0" font-weight="normal" fill="#000">80</text>
<line x1="528.10" y1="1138.30" x2="533.10" y2="1138.30" stroke="#000" stroke-width="1.5"/>
<text x="522.60" y="1144.20" text-anchor="end" font-size="16.0" font-weight="normal" fill="#000">100</text>
<line x1="528.10" y1="1103.10" x2="533.10" y2="1103.10" stroke="#000" stroke-width="1.5"/>
<text x="522.60" y="1109.00" text-anchor="end" font-size="16.0" font-weight="normal" fill="#000">120</text>
<line x1="528.10" y1="1067.90" x2="533.10" y2="1067.90" stroke="#000" stroke-width="1.5"/>
<text x="522.60" y="1073.80" text-anchor="end" font-size="16.0" font-weight="normal" fill="#000">140</text>
<line x1="533.10" y1="1314.30" x2="533.10" y2="1319.30" stroke="#000" stroke-width="1.5"/>
<line x1="600.80" y1="1314.30" x2="600.80" y2="1319.30" stroke="#000" stroke-width="1.5"/>
<line x1="668.50" y1="1314.30" x2="668.50" y2="1319.30" stroke="#000" stroke-width="1.5"/>
<line x1="736.20" y1="1314.30" x2="736.20" y2="1319.30" stroke="#000" stroke-width="1.5"/>
<line x1="803.90" y1="1314.30" x2="803.90" y2="1319.30" stroke="#000" stroke-width="1.5"/>
<line x1="871.60" y1="1314.30" x2="871.60" y2="1319.30" stroke="#000" stroke-width="1.5"/>
<rect x="547.80" y="1138.30" width="19.50" height="176.00" fill="url(#gb)"/>
<rect x="567.30" y="1202.54" width="19.50" height="111.76" fill="url(#gr)"/>
<line x1="557.55" y1="1104.86" x2="557.55" y2="1138.30" stroke="#000" stroke-width="1.5"/>
<line x1="554.05" y1="1104.86" x2="561.05" y2="1104.86" stroke="#000" stroke-width="1.5"/>
<line x1="577.05" y1="1170.86" x2="577.05" y2="1202.54" stroke="#000" stroke-width="1.5"/>
<line x1="573.55" y1="1170.86" x2="580.55" y2="1170.86" stroke="#000" stroke-width="1.5"/>
<rect x="615.60" y="1205.18" width="19.50" height="109.12" fill="url(#gb)"/>
<rect x="635.10" y="1172.62" width="19.50" height="141.68" fill="url(#gr)"/>
<line x1="625.35" y1="1176.14" x2="625.35" y2="1205.18" stroke="#000" stroke-width="1.5"/>
<line x1="621.85" y1="1176.14" x2="628.85" y2="1176.14" stroke="#000" stroke-width="1.5"/>
<line x1="644.85" y1="1145.34" x2="644.85" y2="1172.62" stroke="#000" stroke-width="1.5"/>
<line x1="641.35" y1="1145.34" x2="648.35" y2="1145.34" stroke="#000" stroke-width="1.5"/>
<rect x="683.40" y="1127.74" width="19.50" height="186.56" fill="url(#gb)"/>
<rect x="702.90" y="1194.97" width="19.50" height="119.33" fill="url(#gr)"/>
<line x1="693.15" y1="1090.78" x2="693.15" y2="1127.74" stroke="#000" stroke-width="1.5"/>
<line x1="689.65" y1="1090.78" x2="696.65" y2="1090.78" stroke="#000" stroke-width="1.5"/>
<line x1="712.65" y1="1170.86" x2="712.65" y2="1194.97" stroke="#000" stroke-width="1.5"/>
<line x1="709.15" y1="1170.86" x2="716.15" y2="1170.86" stroke="#000" stroke-width="1.5"/>
<rect x="751.20" y="1213.98" width="19.50" height="100.32" fill="url(#gb)"/>
<rect x="770.70" y="1182.30" width="19.50" height="132.00" fill="url(#gr)"/>
<line x1="760.95" y1="1181.07" x2="760.95" y2="1213.98" stroke="#000" stroke-width="1.5"/>
<line x1="757.45" y1="1181.07" x2="764.45" y2="1181.07" stroke="#000" stroke-width="1.5"/>
<line x1="780.45" y1="1151.15" x2="780.45" y2="1182.30" stroke="#000" stroke-width="1.5"/>
<line x1="776.95" y1="1151.15" x2="783.95" y2="1151.15" stroke="#000" stroke-width="1.5"/>
<rect x="819.00" y="1202.54" width="19.50" height="111.76" fill="url(#gb)"/>
<rect x="838.50" y="1174.20" width="19.50" height="140.10" fill="url(#gr)"/>
<line x1="828.75" y1="1182.83" x2="828.75" y2="1202.54" stroke="#000" stroke-width="1.5"/>
<line x1="825.25" y1="1182.83" x2="832.25" y2="1182.83" stroke="#000" stroke-width="1.5"/>
<line x1="848.25" y1="1149.74" x2="848.25" y2="1174.20" stroke="#000" stroke-width="1.5"/>
<line x1="844.75" y1="1149.74" x2="851.75" y2="1149.74" stroke="#000" stroke-width="1.5"/>
<path d="M570.80,1064.90 L570.80,1051.30 L819.90,1051.30 L819.90,1066.50" stroke="#000" stroke-width="1.7" fill="none"/>
<path d="M569.40,1086.50 L569.40,1071.00 L753.40,1071.00 L753.40,1087.50" stroke="#000" stroke-width="1.7" fill="none"/>
<path d="M569.40,1106.30 L569.40,1092.60 L697.70,1092.60 L697.70,1106.30" stroke="#000" stroke-width="1.7" fill="none"/>
<path d="M568.30,1127.80 L568.30,1114.20 L633.00,1114.20 L633.00,1128.90" stroke="#000" stroke-width="1.7" fill="none"/>
<path d="M691.30,1041.60L692.02,1043.51L694.06,1043.60L692.46,1044.88L693.00,1046.85L691.30,1045.72L689.60,1046.85L690.14,1044.88L688.54,1043.60L690.58,1043.51ZM696.90,1041.60L697.62,1043.51L699.66,1043.60L698.06,1044.88L698.60,1046.85L696.90,1045.72L695.20,1046.85L695.74,1044.88L694.14,1043.60L696.18,1043.51Z" fill="#000"/>
<path d="M655.30,1060.60L656.02,1062.51L658.06,1062.60L656.46,1063.88L657.00,1065.85L655.30,1064.72L653.60,1065.85L654.14,1063.88L652.54,1062.60L654.58,1062.51ZM660.90,1060.60L661.62,1062.51L663.66,1062.60L662.06,1063.88L662.60,1065.85L660.90,1064.72L659.20,1065.85L659.74,1063.88L658.14,1062.60L660.18,1062.51Z" fill="#000"/>
<path d="M597.10,1103.80L597.82,1105.71L599.86,1105.80L598.26,1107.08L598.80,1109.05L597.10,1107.92L595.40,1109.05L595.94,1107.08L594.34,1105.80L596.38,1105.71ZM602.70,1103.80L603.42,1105.71L605.46,1105.80L603.86,1107.08L604.40,1109.05L602.70,1107.92L601.00,1109.05L601.54,1107.08L599.94,1105.80L601.98,1105.71Z" fill="#000"/>
<text x="630.10" y="1090.20" text-anchor="middle" font-size="16.0" font-weight="normal" fill="#000">NS</text>
<text x="699.50" y="1032.50" text-anchor="middle" font-size="16.0" font-weight="normal" fill="#000">XPC (HeLa)</text>
<text x="565.90" y="1339.00" text-anchor="middle" font-size="16.0" font-weight="normal" fill="#000">shCtl</text>
<text x="633.20" y="1339.00" text-anchor="middle" font-size="16.0" font-weight="normal" fill="#000">shHBO1</text>
<text x="702.70" y="1339.00" text-anchor="middle" font-size="16.0" font-weight="normal" fill="#000">WT</text>
<text x="770.90" y="1339.00" text-anchor="middle" font-size="16.0" font-weight="normal" fill="#000">SA</text>
<text x="839.40" y="1339.00" text-anchor="middle" font-size="16.0" font-weight="normal" fill="#000">EQ</text>
<rect x="884.90" y="1185.20" width="8.90" height="8.80" fill="url(#gbs)"/>
<rect x="884.90" y="1213.00" width="8.90" height="8.90" fill="url(#grs)"/>
<text x="898.80" y="1194.30" text-anchor="start" font-size="16.0" font-weight="normal" fill="#000">20 min</text>
<text x="898.80" y="1222.00" text-anchor="start" font-size="16.0" font-weight="normal" fill="#000">60 min</text>
<text transform="translate(467.16,1191.50) rotate(-90)" text-anchor="middle" font-size="16.0">Relative fluorescence of</text>
<text transform="translate(484.76,1192.00) rotate(-90)" text-anchor="middle" font-size="16.0">XPC / CPD (%)</text>
<text x="121.50" y="22.20" text-anchor="start" font-size="25.5" font-weight="bold" fill="#000">a</text>
<text x="0.50" y="413.50" text-anchor="start" font-size="25.5" font-weight="bold" fill="#000">b</text>
<text x="526.80" y="414.30" text-anchor="start" font-size="25.5" font-weight="bold" fill="#000">c</text>
<text x="0.30" y="721.50" text-anchor="start" font-size="25.5" font-weight="bold" fill="#000">d</text>
<text x="526.50" y="722.30" text-anchor="start" font-size="25.5" font-weight="bold" fill="#000">e</text>
<text x="0.20" y="1025.80" text-anchor="start" font-size="25.5" font-weight="bold" fill="#000">f</text>
<text x="452.50" y="1026.20" text-anchor="start" font-size="25.5" font-weight="bold" fill="#000">g</text>
</svg>
</body></html>
